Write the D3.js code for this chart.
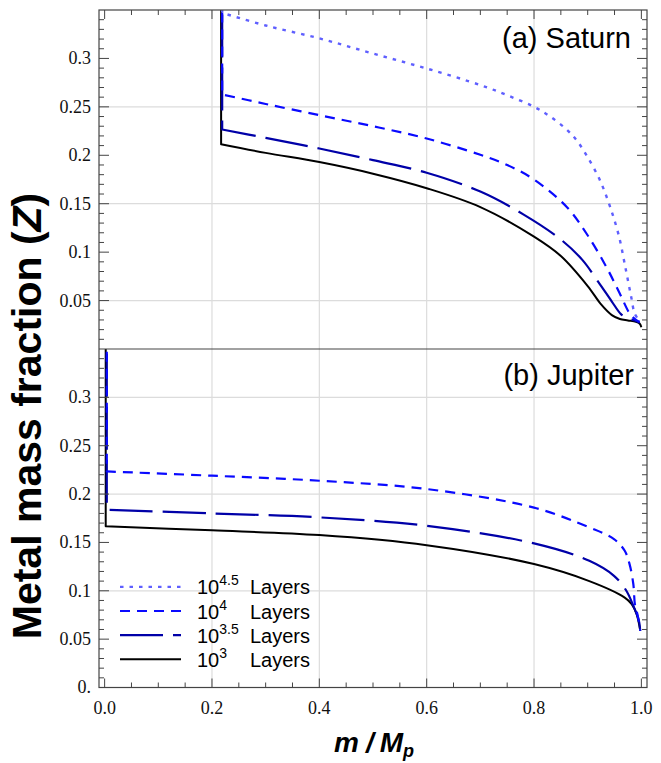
<!DOCTYPE html>
<html>
<head>
<meta charset="utf-8">
<script src="https://cdn.jsdelivr.net/npm/d3@7/dist/d3.min.js"></script>
<style>
  html, body { margin: 0; padding: 0; background: #fff; }
  svg { display: block; }
</style>
</head>
<body>
<svg id="chart" width="661" height="763"></svg>
<script>
// ---------------- DATA ----------------
// Saturn (panel a): [m/Mp, Z]; first point is the top of the vertical jump
const saturnL3 = [[0.217,0.40],[0.217,0.2115],[0.3,0.2025],[0.4,0.193],[0.5,0.181],[0.6,0.166],[0.7,0.1465],[0.8,0.116],[0.85,0.096],[0.9,0.065],[0.925,0.046],[0.945,0.035],[0.96,0.031],[0.975,0.0295],[0.99,0.028],[0.997,0.026],[1.0,0.0225]];
const saturnL35 = [[0.219,0.40],[0.219,0.2266],[0.3,0.218],[0.4,0.207],[0.5,0.195],[0.6,0.182],[0.7,0.1625],[0.78,0.139],[0.85,0.113],[0.89,0.092],[0.92,0.069],[0.945,0.049],[0.962,0.036],[0.975,0.0315],[0.99,0.029],[0.997,0.027]];
const saturnL4 = [[0.219,0.40],[0.219,0.2628],[0.3,0.253],[0.4,0.2414],[0.5,0.230],[0.6,0.2173],[0.7,0.2005],[0.75,0.190],[0.8,0.175],[0.861,0.1466],[0.898,0.119],[0.935,0.0845],[0.96,0.057],[0.979,0.036],[0.99,0.030],[0.997,0.028]];
const saturnL45 = [[0.219,0.40],[0.219,0.347],[0.3,0.334],[0.4,0.3207],[0.5,0.305],[0.6,0.2896],[0.7,0.2725],[0.75,0.262],[0.8,0.250],[0.83,0.240],[0.861,0.2265],[0.88,0.215],[0.9,0.198],[0.923,0.174],[0.941,0.148],[0.958,0.117],[0.971,0.082],[0.981,0.054],[0.988,0.036],[0.997,0.029]];
// Jupiter (panel b)
const jupiterL3 = [[0.002,0.40],[0.002,0.1666],[0.2,0.1625],[0.4,0.1576],[0.6,0.1472],[0.8,0.1276],[0.903,0.110],[0.969,0.093],[0.982,0.0862],[0.991,0.076],[0.998,0.0586]];
const jupiterL35 = [[0.004,0.40],[0.004,0.1838],[0.2,0.180],[0.4,0.1759],[0.6,0.1672],[0.8,0.149],[0.903,0.131],[0.949,0.1155],[0.972,0.100],[0.985,0.0845],[0.995,0.070],[0.998,0.0586]];
const jupiterL4 = [[0.004,0.40],[0.004,0.2234],[0.2,0.219],[0.4,0.2138],[0.6,0.2052],[0.8,0.186],[0.903,0.1655],[0.949,0.1534],[0.969,0.1414],[0.978,0.1276],[0.985,0.107],[0.988,0.086],[0.993,0.075],[0.998,0.0586]];

const legendExps = ["4.5", "4", "3.5", "3"];
const legendWord = "Layers";
const xTickLabels = ["0.0","0.2","0.4","0.6","0.8","1.0"];
const xTickValues = [0, 0.2, 0.4, 0.6, 0.8, 1.0];
const topYTickValues = [0.05, 0.1, 0.15, 0.2, 0.25, 0.3];
const topYTickLabels = ["0.05","0.1","0.15","0.2","0.25","0.3"];
const botYTickValues = [0, 0.05, 0.1, 0.15, 0.2, 0.25, 0.3];
const botYTickLabels = ["0.","0.05","0.1","0.15","0.2","0.25","0.3"];
const topGrid = [0.05, 0.15, 0.25];
const botGrid = [0.1, 0.2, 0.3];
const xGrid = [0.2, 0.4, 0.6, 0.8];
const panelLabels = ["(a) Saturn", "(b) Jupiter"];

// ---------------- LAYOUT ----------------
const L = 99, R = 647, T = 10, MID = 349, B = 687.5;
const svg = d3.select("#chart");
const x = d3.scaleLinear().domain([-0.0105, 1.0105]).range([L, R]);
const yTop = d3.scaleLinear().domain([0, 0.35]).range([MID, T]);
const yBot = d3.scaleLinear().domain([0, 0.35]).range([B, MID]);

const styles = {
  L3:  {stroke: "#000000", dash: null,   width: 2},
  L35: {stroke: "#0000a8", dash: "43,10", width: 2.2},
  L4:  {stroke: "#0a0aff", dash: "10,7", width: 2.2},
  L45: {stroke: "#5f5fff", dash: "3.5,6", width: 2.4}
};

const defs = svg.append("defs");
defs.append("clipPath").attr("id","clipTop").append("rect")
  .attr("x", L).attr("y", T).attr("width", R-L).attr("height", MID-T);
defs.append("clipPath").attr("id","clipBot").append("rect")
  .attr("x", L).attr("y", MID).attr("width", R-L).attr("height", B-MID);

// grid
const grid = svg.append("g").attr("stroke", "#dcdcdc").attr("stroke-width", 1.2);
xGrid.forEach(v => grid.append("line").attr("x1", x(v)).attr("x2", x(v)).attr("y1", T).attr("y2", B));
topGrid.forEach(v => grid.append("line").attr("x1", L).attr("x2", R).attr("y1", yTop(v)).attr("y2", yTop(v)));
botGrid.forEach(v => grid.append("line").attr("x1", L).attr("x2", R).attr("y1", yBot(v)).attr("y2", yBot(v)));

// curves: straight vertical jump, then a smooth curve (one path so dashes continue)
function drawSeries(data, yScale, st, clip) {
  const smooth = d3.line().x(d => x(d[0])).y(d => yScale(d[1])).curve(d3.curveCatmullRom.alpha(0.5));
  const rest = smooth(data.slice(1));
  const d = `M${x(data[0][0])},${yScale(data[0][1])}L` + rest.slice(1);
  svg.append("path").attr("d", d)
    .attr("clip-path", `url(#${clip})`)
    .attr("fill", "none").attr("stroke", st.stroke)
    .attr("stroke-width", st.width)
    .attr("stroke-dasharray", st.dash)
    .attr("stroke-linejoin", "round");
}
drawSeries(saturnL3, yTop, styles.L3, "clipTop");
drawSeries(saturnL35, yTop, styles.L35, "clipTop");
drawSeries(saturnL4, yTop, styles.L4, "clipTop");
drawSeries(saturnL45, yTop, styles.L45, "clipTop");
drawSeries(jupiterL3, yBot, styles.L3, "clipBot");
drawSeries(jupiterL35, yBot, styles.L35, "clipBot");
drawSeries(jupiterL4, yBot, styles.L4, "clipBot");

// frame
const frameColor = "#444";
svg.append("rect").attr("x", L).attr("y", T).attr("width", R-L).attr("height", B-T)
  .attr("fill", "none").attr("stroke", frameColor).attr("stroke-width", 1.2);
svg.append("line").attr("x1", L).attr("x2", R).attr("y1", MID).attr("y2", MID)
  .attr("stroke", frameColor).attr("stroke-width", 1.2);

// ticks
const tk = svg.append("g").attr("stroke", frameColor).attr("stroke-width", 1);
function yTicks(yScale) {
  for (let i = 1; i < 35; i++) {
    const v = i / 100;
    const major = i % 5 === 0;
    const len = major ? 10 : 5;
    const yy = yScale(v);
    tk.append("line").attr("x1", L).attr("x2", L + len).attr("y1", yy).attr("y2", yy);
    tk.append("line").attr("x1", R).attr("x2", R - len).attr("y1", yy).attr("y2", yy);
  }
}
yTicks(yTop); yTicks(yBot);
for (let i = 0; i <= 20; i++) {
  const v = i * 0.05;
  const major = i % 4 === 0;
  const len = major ? 9 : 5;
  tk.append("line").attr("x1", x(v)).attr("x2", x(v)).attr("y1", B).attr("y2", B - len);
  tk.append("line").attr("x1", x(v)).attr("x2", x(v)).attr("y1", T).attr("y2", T + len);
}

// tick labels
const serif = "'Liberation Serif', 'Times New Roman', serif";
const sans = "'Liberation Sans', Arial, Helvetica, sans-serif";
const tl = svg.append("g").attr("font-family", serif).attr("font-size", 18).attr("fill", "#111");
topYTickValues.forEach((v, i) => tl.append("text").attr("x", 91).attr("y", yTop(v)).attr("dy", "0.33em")
  .attr("text-anchor", "end").text(topYTickLabels[i]));
botYTickValues.forEach((v, i) => tl.append("text").attr("x", 91).attr("y", yBot(v)).attr("dy", "0.33em")
  .attr("text-anchor", "end").text(botYTickLabels[i]));
xTickValues.forEach((v, i) => tl.append("text").attr("x", x(v)).attr("y", 714)
  .attr("text-anchor", "middle").text(xTickLabels[i]));

// panel labels
svg.append("text").attr("x", 631).attr("y", 48).attr("text-anchor", "end")
  .attr("font-family", sans).attr("font-size", 29).attr("fill", "#000").text(panelLabels[0]);
svg.append("text").attr("x", 634).attr("y", 385).attr("text-anchor", "end")
  .attr("font-family", sans).attr("font-size", 29).attr("fill", "#000").text(panelLabels[1]);

// legend
const legendStyles = [styles.L45, styles.L4, styles.L35, styles.L3];
const legendY0 = yBot(0.104), legendStep = 24.1;
legendExps.forEach((e, i) => {
  const yy = legendY0 + i * legendStep;
  const st = legendStyles[i];
  svg.append("line").attr("x1", 120).attr("x2", 181).attr("y1", yy).attr("y2", yy)
    .attr("stroke", st.stroke).attr("stroke-width", st.width).attr("stroke-dasharray", st.dash);
  const t = svg.append("text").attr("x", 197).attr("y", yy + 7.5)
    .attr("font-family", sans).attr("font-size", 20).attr("fill", "#000");
  t.append("tspan").text("10");
  t.append("tspan").attr("font-size", 14).attr("dy", -9).text(e);
  svg.append("text").attr("x", 250).attr("y", yy + 7.5)
    .attr("font-family", sans).attr("font-size", 20).attr("fill", "#000").text(legendWord);
});

// axis titles
const yt = svg.append("text").attr("transform", "translate(41,416) rotate(-90)")
  .attr("text-anchor", "middle").attr("font-family", sans).attr("font-weight", "bold")
  .attr("font-size", 41).attr("fill", "#000");
yt.append("tspan").text("Metal mass fraction (");
yt.append("tspan").attr("font-style", "italic").text("Z");
yt.append("tspan").text(")");

const xt = svg.append("text").attr("x", 374).attr("y", 752).attr("text-anchor", "middle")
  .attr("font-family", sans).attr("font-weight", "bold").attr("font-style", "italic")
  .attr("font-size", 28).attr("fill", "#000");
xt.append("tspan").text("m");
xt.append("tspan").attr("dx", 7).text("/");
xt.append("tspan").attr("dx", 6).text("M");
xt.append("tspan").attr("font-size", 18).attr("dy", 5).text("p");
</script>
</body>
</html>
